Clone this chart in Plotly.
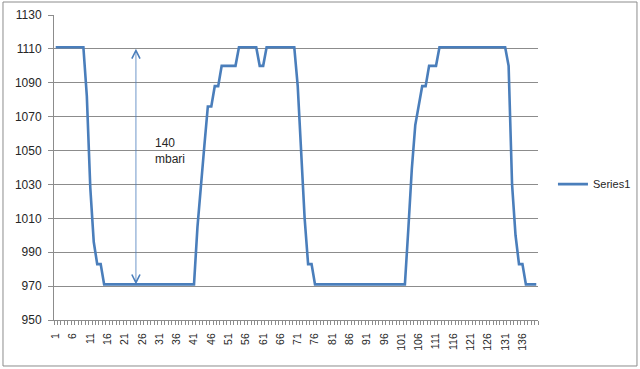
import plotly.graph_objects as go

categories = list(range(1, 141))
series1 = [
    1111, 1111, 1111, 1111, 1111, 1111, 1111, 1111, 1111, 1082,
    1028, 996, 983, 983, 971, 971, 971, 971, 971, 971,
    971, 971, 971, 971, 971, 971, 971, 971, 971, 971,
    971, 971, 971, 971, 971, 971, 971, 971, 971, 971,
    971, 1005, 1031, 1053, 1076, 1076, 1088, 1088, 1100, 1100,
    1100, 1100, 1100, 1111, 1111, 1111, 1111, 1111, 1111, 1100,
    1100, 1111, 1111, 1111, 1111, 1111, 1111, 1111, 1111, 1111,
    1088, 1050, 1010, 983, 983, 971, 971, 971, 971, 971,
    971, 971, 971, 971, 971, 971, 971, 971, 971, 971,
    971, 971, 971, 971, 971, 971, 971, 971, 971, 971,
    971, 971, 1004, 1039, 1065, 1077, 1088, 1088, 1100, 1100,
    1100, 1111, 1111, 1111, 1111, 1111, 1111, 1111, 1111, 1111,
    1111, 1111, 1111, 1111, 1111, 1111, 1111, 1111, 1111, 1111,
    1111, 1100, 1030, 1000, 983, 983, 971, 971, 971, 971,
]
x_tick_vals = [1, 6, 11, 16, 21, 26, 31, 36, 41, 46, 51, 56, 61, 66, 71, 76, 81, 86,
               91, 96, 101, 106, 111, 116, 121, 126, 131, 136]
x_tick_text = [str(v) for v in x_tick_vals]
y_ticks = [950, 970, 990, 1010, 1030, 1050, 1070, 1090, 1110, 1130]
arrow_x = 24.2
arrow_low, arrow_high = 971, 1111
label_text = "140<br>mbari"

FONT = "Liberation Sans, Arial, sans-serif"
GRID = "#8c8c8c"

fig = go.Figure()
fig.add_trace(go.Scatter(
    x=categories, y=series1, mode="lines", name="Series1",
    line=dict(color="#4a7ebb", width=2.6),
))

fig.add_annotation(
    x=arrow_x, y=arrow_low, ax=arrow_x, ay=arrow_high,
    xref="x", yref="y", axref="x", ayref="y",
    text="", showarrow=True, arrowhead=5, startarrowhead=5,
    arrowside="end+start", arrowwidth=0.8, arrowsize=2.0, startarrowsize=2.0,
    arrowcolor="#4a7ebb", standoff=0, startstandoff=0,
)
fig.add_annotation(
    x=29.2, y=1050, xref="x", yref="y", text=label_text, showarrow=False,
    xanchor="left", yanchor="middle", align="left",
    font=dict(family=FONT, size=12, color="#262626"),
)

fig.add_shape(type="rect", xref="paper", yref="paper",
              x0=-0.1054, x1=1.2045, y0=-0.1508, y1=1.0426,
              line=dict(color="#8c8c8c", width=1), fillcolor="rgba(0,0,0,0)")

fig.update_layout(
    width=640, height=369,
    margin=dict(l=54, r=102, t=15, b=49, autoexpand=False),
    paper_bgcolor="white", plot_bgcolor="white",
    font=dict(family=FONT, size=11, color="#262626"),
    showlegend=True,
    legend=dict(xref="container", yref="container", x=0.864, y=0.501,
                xanchor="left", yanchor="middle",
                font=dict(family=FONT, size=11, color="#262626"),
                bgcolor="rgba(0,0,0,0)"),
    xaxis=dict(
        range=[0.5, 140.5], tickmode="array", tickvals=x_tick_vals, ticktext=x_tick_text,
        tickangle=-90, showgrid=False, zeroline=False, automargin=False,
        showline=True, linecolor=GRID, linewidth=1,
        ticks="", tickfont=dict(family=FONT, size=10.5, color="#262626"),
        ticklabelstandoff=8,
        minor=dict(ticks="outside", tick0=0.5, dtick=1, ticklen=4, tickcolor=GRID, showgrid=False),
    ),
    yaxis=dict(
        range=[950, 1130], tickmode="array", tickvals=y_ticks,
        showgrid=True, gridcolor=GRID, gridwidth=1, zeroline=False, automargin=False,
        showline=True, linecolor=GRID, linewidth=1,
        ticks="outside", ticklen=5, tickcolor=GRID,
        tickfont=dict(family=FONT, size=12, color="#262626"),
        ticklabelstandoff=4,
    ),
)

fig.write_html("out.html")
